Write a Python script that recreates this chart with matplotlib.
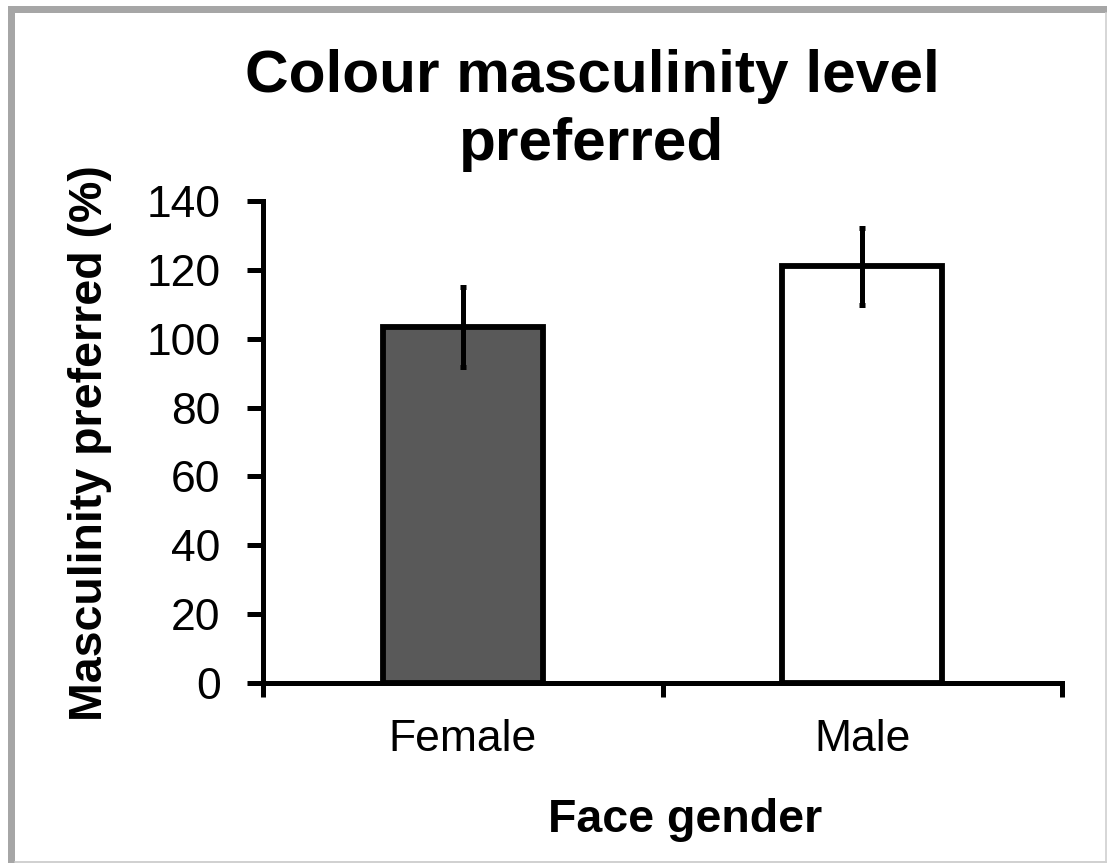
import matplotlib
matplotlib.use("Agg")
import matplotlib.pyplot as plt
from matplotlib.patches import Rectangle
from matplotlib.lines import Line2D

categories = ["Female", "Male"]
values = [103.5, 121.0]
errors = [11.6, 11.1]
bar_colors = ["#595959", "#ffffff"]
yticks = [0, 20, 40, 60, 80, 100, 120, 140]

plt.rcParams['font.family'] = ['Liberation Sans', 'DejaVu Sans']

W, H = 1107, 863
fig = plt.figure(figsize=(W / 100, H / 100), dpi=100)
fig.patch.set_facecolor("white")

# frame around chart area
fig.add_artist(Rectangle((8 / W, 0), 7 / W, (H - 6) / H, transform=fig.transFigure,
                         facecolor="#a6a6a6", edgecolor="none"))
fig.add_artist(Rectangle((8 / W, (H - 13) / H), (W - 8) / W, 7 / H, transform=fig.transFigure,
                         facecolor="#a6a6a6", edgecolor="none"))
fig.add_artist(Line2D([15 / W, 1], [1.5 / H, 1.5 / H], transform=fig.transFigure,
                      color="#c8c8c8", lw=1.2))
fig.add_artist(Line2D([(W - 1.5) / W, (W - 1.5) / W], [0, (H - 13) / H], transform=fig.transFigure,
                      color="#d0d0d0", lw=1.2))

left, right = 263 / W, 1062 / W
bottom, top = (H - 683) / H, (H - 201) / H
ax = fig.add_axes([left, bottom, right - left, top - bottom])

x = list(range(len(categories)))
ax.bar(x, values, width=0.4, color=bar_colors, edgecolor="black", linewidth=4.2, zorder=2)
ax.errorbar(x, values, yerr=errors, fmt="none", ecolor="black", elinewidth=3.6,
            capsize=2, capthick=3.6, zorder=3)

ax.set_xlim(-0.5, len(categories) - 0.5)
ax.set_ylim(0, 140)
ax.set_yticks(yticks)
ax.set_yticklabels([str(v) for v in yticks])

ax.set_xticks([i - 0.5 for i in range(len(categories) + 1)])
ax.set_xticklabels([])
ax.set_xticks(x, minor=True)
ax.set_xticklabels(categories, minor=True)

for s in ["top", "right"]:
    ax.spines[s].set_visible(False)
for s in ["left", "bottom"]:
    ax.spines[s].set_linewidth(3.6)
    ax.spines[s].set_capstyle("projecting")

ax.tick_params(axis="y", which="major", direction="out", length=11.5, width=3.6,
               labelsize=32, pad=19)
ax.tick_params(axis="x", which="major", direction="out", length=10, width=3.6)
ax.tick_params(axis="x", which="minor", length=0, labelsize=32, pad=26)

fig.text(592 / W, (H - 92) / H, "Colour masculinity level", ha="center", va="baseline",
         fontsize=43.5, fontweight="bold")
fig.text(592 / W, (H - 160) / H, "preferred", ha="center", va="baseline",
         fontsize=43.5, fontweight="bold")
fig.text(685 / W, (H - 832) / H, "Face gender", ha="center", va="baseline",
         fontsize=33.5, fontweight="bold")
fig.text(90 / W, (H - 443) / H, "Masculinity preferred (%)", ha="center", va="center",
         rotation=90, fontsize=33.5, fontweight="bold")

fig.savefig("out.png", dpi=100)
